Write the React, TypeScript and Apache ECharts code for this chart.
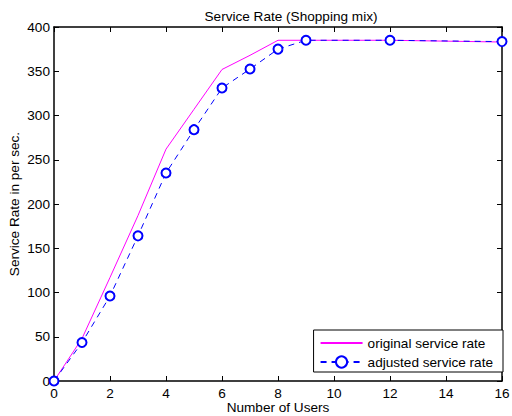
import React, { useEffect, useRef } from "react";
import * as echarts from "echarts";

const users = [0, 1, 2, 3, 4, 5, 6, 7, 8, 9, 12, 16];
const originalRate = [0, 48, 117, 187, 262, 307, 352, 368, 385, 385, 385, 383];
const adjustedRate = [0, 43.5, 96, 164, 235, 284, 331, 352.5, 375, 385, 385, 383.5];
const xTicks = [0, 2, 4, 6, 8, 10, 12, 14, 16];
const yTicks = [0, 50, 100, 150, 200, 250, 300, 350, 400];

const FONT = "Liberation Sans";
const FS = 13.6;

export default function App() {
  const ref = useRef<HTMLDivElement>(null);
  useEffect(() => {
    if (!ref.current) return;
    const chart = echarts.init(ref.current, null, { renderer: "svg" });
    const tickAxisCommon = {
      axisLine: { show: true, onZero: false, lineStyle: { color: "#000", width: 1.5 } },
      axisTick: { show: true, inside: true, length: 5, lineStyle: { color: "#000", width: 1 } },
      splitLine: { show: false },
    };
    chart.setOption({
      animation: false,
      backgroundColor: "#fff",
      title: {
        text: "Service Rate (Shopping mix)",
        left: 286,
        textAlign: "center",
        top: 4,
        textStyle: { fontFamily: FONT, fontSize: FS, fontWeight: "normal", color: "#000" },
      },
      grid: { left: 54, right: 10, top: 27, bottom: 35, containLabel: false, outerBoundsMode: "none" },
      xAxis: [
        {
          type: "value",
          min: xTicks[0],
          max: xTicks[xTicks.length - 1],
          interval: 2,
          position: "bottom",
          name: "Number of Users",
          nameLocation: "middle",
          nameGap: 19,
          nameMoveOverlap: false,
          nameTextStyle: { fontFamily: FONT, fontSize: FS, color: "#000" },
          axisLabel: { fontFamily: FONT, fontSize: FS, color: "#000", margin: 5 },
          ...tickAxisCommon,
        },
        {
          type: "value",
          min: xTicks[0],
          max: xTicks[xTicks.length - 1],
          interval: 2,
          position: "top",
          axisLabel: { show: false },
          ...tickAxisCommon,
        },
      ],
      yAxis: [
        {
          type: "value",
          min: yTicks[0],
          max: yTicks[yTicks.length - 1],
          interval: 50,
          position: "left",
          name: "Service Rate in per sec.",
          nameLocation: "middle",
          nameGap: 33,
          nameMoveOverlap: false,
          nameTextStyle: { fontFamily: FONT, fontSize: FS, color: "#000" },
          axisLabel: { fontFamily: FONT, fontSize: FS, color: "#000", margin: 4 },
          ...tickAxisCommon,
        },
        {
          type: "value",
          min: yTicks[0],
          max: yTicks[yTicks.length - 1],
          interval: 50,
          position: "right",
          axisLabel: { show: false },
          ...tickAxisCommon,
        },
      ],
      legend: {
        orient: "vertical",
        right: 9,
        bottom: 44,
        itemWidth: 42,
        itemHeight: 14,
        itemGap: 5,
        padding: [6, 10, 3, 6],
        borderColor: "#000",
        borderWidth: 1,
        borderRadius: 0,
        backgroundColor: "#fff",
        textStyle: { fontFamily: FONT, fontSize: FS, color: "#000" },
        data: [
          { name: "original service rate", itemStyle: { opacity: 0 } },
          { name: "adjusted service rate" },
        ],
      },
      series: [
        {
          name: "original service rate",
          type: "line",
          data: users.map((u, i) => [u, originalRate[i]]),
          showSymbol: false,
          symbol: "none",
          lineStyle: { color: "#ff00ff", width: 1 },
          itemStyle: { color: "#ff00ff" },
          z: 2,
        },
        {
          name: "adjusted service rate",
          type: "line",
          data: users.map((u, i) => [u, adjustedRate[i]]),
          symbol: "emptyCircle",
          symbolSize: 9,
          lineStyle: { color: "#0000ff", width: 1, type: [6, 5] },
          itemStyle: { color: "#0000ff", borderColor: "#0000ff", borderWidth: 1 },
          z: 3,
        },
      ],
    });
    return () => chart.dispose();
  }, []);
  return <div ref={ref} style={{ width: 512, height: 416, position: "absolute", left: 0, top: 0 }} />;
}
